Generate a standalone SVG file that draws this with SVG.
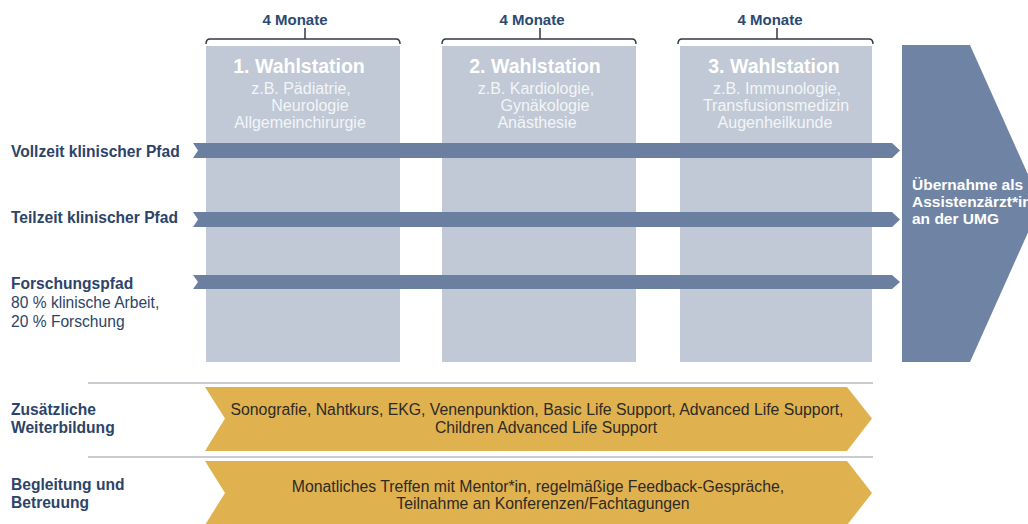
<svg xmlns="http://www.w3.org/2000/svg" width="1028" height="524" viewBox="0 0 1028 524">
<style>
.lbl{font-family:"Liberation Sans",Arial,sans-serif;font-size:15.6px;fill:#2c4469}
.b{font-weight:bold}
.mon{font-family:"Liberation Sans",Arial,sans-serif;font-size:15px;font-weight:bold;fill:#2b4a72;text-anchor:middle}
.hd{font-family:"Liberation Sans",Arial,sans-serif;font-size:19.5px;font-weight:bold;fill:#ffffff;text-anchor:middle}
.sub{font-family:"Liberation Sans",Arial,sans-serif;font-size:16px;fill:#f3f5f8;text-anchor:middle}
.col{fill:#c0c9d5}
.bar{fill:#6b7fa1}
.gold{fill:#dfb14f}
.gt{font-family:"Liberation Sans",Arial,sans-serif;font-size:15.8px;fill:#2e2a25;text-anchor:middle}
.brk{fill:none;stroke:#333a44;stroke-width:1.5}
.sep{stroke:#c9ccd1;stroke-width:2}
.wt{font-family:"Liberation Sans",Arial,sans-serif;font-size:15.5px;font-weight:bold;fill:#ffffff}
</style>
<rect width="1028" height="524" fill="#ffffff"/>

<g id="col1">
<rect class="col" x="206" y="46" width="194" height="316"/>
<path class="brk" d="M206,44 Q206,39 210,39 L396,39 Q400,39 400,44 M305,39 L305,28"/>
<text class="mon" x="295" y="25">4 Monate</text>
<text class="hd" x="299" y="73">1. Wahlstation</text>
<text class="sub" x="301" y="94">z.B. Pädiatrie,</text>
<text class="sub" x="310" y="111">Neurologie</text>
<text class="sub" x="300" y="128">Allgemeinchirurgie</text>
</g>

<g id="col2">
<rect class="col" x="442" y="46" width="194" height="316"/>
<path class="brk" d="M442,44 Q442,39 446,39 L632,39 Q636,39 636,44 M540,39 L540,28"/>
<text class="mon" x="532" y="25">4 Monate</text>
<text class="hd" x="535" y="73">2. Wahlstation</text>
<text class="sub" x="536" y="94">z.B. Kardiologie,</text>
<text class="sub" x="545" y="111">Gynäkologie</text>
<text class="sub" x="537" y="128">Anästhesie</text>
</g>

<g id="col3">
<rect class="col" x="680" y="46" width="192" height="316"/>
<path class="brk" d="M678,44 Q678,39 682,39 L869,39 Q873,39 873,44 M777,39 L777,28"/>
<text class="mon" x="770" y="25">4 Monate</text>
<text class="hd" x="774" y="73">3. Wahlstation</text>
<text class="sub" x="777" y="94">z.B. Immunologie,</text>
<text class="sub" x="776" y="111">Transfusionsmedizin</text>
<text class="sub" x="775" y="128">Augenheilkunde</text>
</g>

<g id="uebernahme">
<polygon fill="#6f84a5" points="902,45 970,45 1041,203.5 970,362 902,362"/>
<text class="wt" x="912" y="190">Übernahme als</text>
<text class="wt" x="912" y="207">Assistenzärzt*in</text>
<text class="wt" x="912" y="224">an der UMG</text>
</g>

<g id="connectors">
<polygon class="bar" points="193,143 892,143 900,150.5 892,158 193,158 198,150.5"/>
<polygon class="bar" points="193,212 892,212 900,219.5 892,227 193,227 198,219.5"/>
<polygon class="bar" points="193,275 892,275 900,282 892,289 193,289 198,282"/>
</g>

<g id="labels">
<text class="lbl b" x="11" y="157">Vollzeit klinischer Pfad</text>
<text class="lbl b" x="11" y="223">Teilzeit klinischer Pfad</text>
<text class="lbl b" x="11" y="289">Forschungspfad</text>
<text class="lbl" x="11" y="308">80 % klinische Arbeit,</text>
<text class="lbl" x="11" y="327">20 % Forschung</text>
</g>

<g id="separators">
<line class="sep" x1="88" y1="383" x2="873" y2="383"/>
<line class="sep" x1="88" y1="457" x2="873" y2="457"/>
</g>

<g id="weiterbildung">
<polygon class="gold" points="205,387 847,387 872,418.5 847,451 205,451 225,418.5"/>
<text class="lbl b" x="11" y="415">Zusätzliche</text>
<text class="lbl b" x="11" y="433">Weiterbildung</text>
<text class="gt" x="537" y="415">Sonografie, Nahtkurs, EKG, Venenpunktion, Basic Life Support, Advanced Life Support,</text>
<text class="gt" x="546" y="433">Children Advanced Life Support</text>
</g>

<g id="begleitung">
<polygon class="gold" points="205,461 847,461 872,493 847,525 205,525 225,493"/>
<text class="lbl b" x="11" y="490">Begleitung und</text>
<text class="lbl b" x="11" y="508">Betreuung</text>
<text class="gt" x="538" y="492">Monatliches Treffen mit Mentor*in, regelmäßige Feedback-Gespräche,</text>
<text class="gt" x="543" y="509">Teilnahme an Konferenzen/Fachtagungen</text>
</g>
</svg>
